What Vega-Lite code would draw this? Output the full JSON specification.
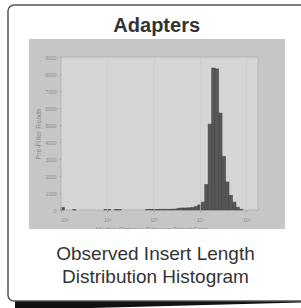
{
  "$schema": "https://vega.github.io/schema/vega-lite/v6.json",
  "width": 197,
  "height": 153,
  "autosize": {"type": "none"},
  "padding": {"left": 61, "top": 57, "right": 43, "bottom": 98},
  "background": "white",
  "view": {"stroke": null},
  "config": {"font": "Liberation Sans"},
  "data": {"values": [
    {"lo": 1.0, "hi": 1.075, "count": 150},
    {"lo": 1.25, "hi": 1.325, "count": 20},
    {"lo": 1.925, "hi": 2.0, "count": 25},
    {"lo": 2.0, "hi": 2.075, "count": 25},
    {"lo": 2.15, "hi": 2.225, "count": 25},
    {"lo": 2.225, "hi": 2.3, "count": 25},
    {"lo": 2.825, "hi": 2.9, "count": 30},
    {"lo": 2.9, "hi": 2.975, "count": 35},
    {"lo": 2.975, "hi": 3.05, "count": 35},
    {"lo": 3.05, "hi": 3.125, "count": 30},
    {"lo": 3.125, "hi": 3.2, "count": 35},
    {"lo": 3.2, "hi": 3.275, "count": 40},
    {"lo": 3.275, "hi": 3.35, "count": 35},
    {"lo": 3.35, "hi": 3.425, "count": 45},
    {"lo": 3.425, "hi": 3.5, "count": 50},
    {"lo": 3.5, "hi": 3.575, "count": 100},
    {"lo": 3.575, "hi": 3.65, "count": 120},
    {"lo": 3.65, "hi": 3.725, "count": 120},
    {"lo": 3.725, "hi": 3.8, "count": 130},
    {"lo": 3.8, "hi": 3.875, "count": 150},
    {"lo": 3.875, "hi": 3.95, "count": 200},
    {"lo": 3.95, "hi": 4.025, "count": 300},
    {"lo": 4.025, "hi": 4.1, "count": 460},
    {"lo": 4.1, "hi": 4.175, "count": 1500},
    {"lo": 4.175, "hi": 4.25, "count": 5050},
    {"lo": 4.25, "hi": 4.325, "count": 8350},
    {"lo": 4.325, "hi": 4.4, "count": 8300},
    {"lo": 4.4, "hi": 4.475, "count": 5700},
    {"lo": 4.475, "hi": 4.55, "count": 3150},
    {"lo": 4.55, "hi": 4.625, "count": 1650},
    {"lo": 4.625, "hi": 4.7, "count": 860},
    {"lo": 4.7, "hi": 4.775, "count": 460},
    {"lo": 4.775, "hi": 4.85, "count": 160},
    {"lo": 4.85, "hi": 4.925, "count": 40}
  ]},
  "layer": [
    {
      "data": {"values": [{}]},
      "mark": {"type": "point", "filled": true, "fill": "#111111", "strokeWidth": 0, "opacity": 1, "size": 82944, "shape": "M -1 0 L 1 0 L 1 0.0243 L -1 0.0764 Z", "clip": false},
      "encoding": {
        "x": {"datum": 3.1142, "type": "quantitative", "scale": {"domain": [1, 5.25], "nice": false, "zero": false},
          "axis": {
            "values": [1, 2, 3, 4, 5],
            "labelExpr": "'10' + ['⁰','¹','²','³','⁴','⁵'][datum.value]",
            "labelFontSize": 5, "labelColor": "#8c8c8c", "labelPadding": 5, "labelDx": -2,
            "labelOverlap": false,
            "tickSize": 2, "tickColor": "#a8a8a8", "domain": false,
            "grid": true, "gridColor": "#cacaca", "gridWidth": 0.6,
            "title": null,
            "zindex": 1
          }
        },
        "y": {"datum": -5235, "type": "quantitative", "scale": {"domain": [0, 9000], "nice": false, "zero": false},
          "axis": {
            "values": [0, 1000, 2000, 3000, 4000, 5000, 6000, 7000, 8000, 9000],
            "tickCount": 10,
            "format": "d",
            "labelFontSize": 5, "labelColor": "#8c8c8c", "labelPadding": 3,
            "labelOverlap": false, "labelFlush": false,
            "tickSize": 2, "tickColor": "#a8a8a8", "domain": false, "grid": false,
            "title": "Pre-Filter Reads",
            "titleFontSize": 7, "titleFontWeight": "normal", "titleColor": "#8c8c8c", "titlePadding": 3,
            "zindex": 1
          }
        }
      }
    },
    {
      "data": {"values": [{}]},
      "mark": {"type": "rect", "fill": "white", "stroke": "#555555", "strokeWidth": 1.5, "cornerRadius": 6, "clip": false},
      "encoding": {
        "x": {"datum": -0.1434, "type": "quantitative"},
        "x2": {"datum": 6.6},
        "y": {"datum": 12059, "type": "quantitative"},
        "y2": {"datum": -5353}
      }
    },
    {
      "data": {"values": [{}]},
      "mark": {"type": "rect", "fill": "#c6c6c6", "clip": false},
      "encoding": {
        "x": {"datum": 0.3096, "type": "quantitative"},
        "x2": {"datum": 5.8325},
        "y": {"datum": 10059, "type": "quantitative"},
        "y2": {"datum": -1118}
      }
    },
    {
      "data": {"values": [{}]},
      "mark": {"type": "rect", "fill": "#d5d5d5", "stroke": "#b4b4b4", "strokeWidth": 1, "clip": false},
      "encoding": {
        "x": {"datum": 1, "type": "quantitative"},
        "x2": {"datum": 5.25},
        "y": {"datum": 9000, "type": "quantitative"},
        "y2": {"datum": 0}
      }
    },
    {
      "mark": {"type": "rect", "fill": "#585858", "stroke": "#3c3c3c", "strokeWidth": 0.5},
      "encoding": {
        "x": {"field": "lo", "type": "quantitative"},
        "x2": {"field": "hi"},
        "y": {"field": "count", "type": "quantitative"},
        "y2": {"datum": 0}
      }
    },
    {
      "data": {"values": [{}]},
      "mark": {"type": "text", "text": "Median Distance Between Paired Ends", "font": "Liberation Sans", "fontSize": 6.5, "fill": "#8c8c8c", "align": "center", "baseline": "alphabetic", "clip": false},
      "encoding": {
        "x": {"datum": 2.9632, "type": "quantitative"},
        "y": {"datum": -1265, "type": "quantitative"}
      }
    },
    {
      "data": {"values": [{}]},
      "mark": {"type": "rect", "fill": "white", "clip": false},
      "encoding": {
        "x": {"datum": 0.3096, "type": "quantitative"},
        "x2": {"datum": 5.8325},
        "y": {"datum": -1118, "type": "quantitative"},
        "y2": {"datum": -1530}
      }
    },
    {
      "data": {"values": [{}]},
      "mark": {"type": "text", "text": "Adapters", "font": "Liberation Sans", "fontSize": 20, "fontWeight": "bold", "fill": "#333333", "align": "center", "baseline": "alphabetic", "clip": false},
      "encoding": {
        "x": {"datum": 3.0646, "type": "quantitative"},
        "y": {"datum": 10488, "type": "quantitative"}
      }
    },
    {
      "data": {"values": [{}]},
      "mark": {"type": "text", "text": ["Observed Insert Length", "Distribution Histogram"], "font": "Liberation Sans", "fontSize": 19, "lineHeight": 23, "fill": "#333333", "align": "center", "baseline": "alphabetic", "clip": false},
      "encoding": {
        "x": {"datum": 3.0387, "type": "quantitative"},
        "y": {"datum": -2941, "type": "quantitative"}
      }
    }
  ]
}
